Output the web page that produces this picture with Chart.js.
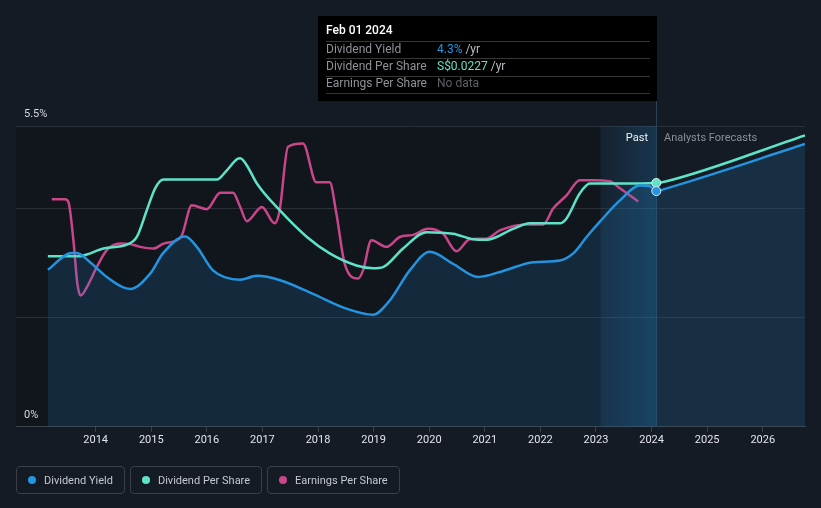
<!DOCTYPE html>
<html><head><meta charset="utf-8">
<script src="https://cdn.jsdelivr.net/npm/chart.js@4.4.0/dist/chart.umd.min.js"></script>
<style>
html,body{margin:0;padding:0;background:#151b25;width:821px;height:508px;overflow:hidden;font-family:Roboto,sans-serif}
#wrap{position:relative;width:821px;height:508px}
#c{position:absolute;left:0;top:0}
.legend{position:absolute;left:16px;top:466px;display:flex;gap:5px}
.item{box-sizing:border-box;height:28px;border:1px solid #3a3f48;border-radius:4px;display:flex;align-items:center;padding:0 11px 0 11px;color:#c5c8cc;font-size:11px}
.dot{width:8px;height:8px;border-radius:50%;margin-right:8px}
</style></head>
<body>
<div id="wrap">
<canvas id="c" width="821" height="508"></canvas>
<div class="legend">
 <div class="item"><span class="dot" style="background:#2394df"></span>Dividend Yield</div>
 <div class="item"><span class="dot" style="background:#5fe3c8"></span>Dividend Per Share</div>
 <div class="item"><span class="dot" style="background:#c9468a"></span>Earnings Per Share</div>
</div>
</div>
<script>
// ---- data (x = decimal year) ----
const yieldX = [2013.14,2013.57,2013.66,2013.90,2014.20,2014.62,2014.98,2015.21,2015.61,2015.82,2016.11,2016.60,2016.90,2017.32,2017.91,2018.51,2018.99,2019.29,2019.65,2020.01,2020.43,2020.88,2021.33,2021.87,2022.35,2022.59,2022.83,2023.07,2023.43,2023.79,2023.97,2024.085,2024.27,2026.76];
const yieldY = [2.87,3.18,3.18,3.01,2.74,2.52,2.80,3.17,3.48,3.29,2.86,2.69,2.76,2.68,2.43,2.16,2.05,2.31,2.86,3.20,2.98,2.74,2.85,3.01,3.04,3.17,3.47,3.75,4.14,4.41,4.40,4.31,4.36,5.17];

const dpsX = [2013.14,2013.72,2013.84,2014.14,2014.56,2014.74,2014.92,2015.07,2015.22,2016.18,2016.36,2016.54,2016.60,2016.72,2016.90,2017.31,2017.80,2018.21,2018.69,2018.99,2019.17,2019.53,2019.95,2020.43,2020.79,2021.03,2021.51,2021.81,2022.35,2022.47,2022.71,2022.89,2023.43,2024.085,2024.27,2026.76];
const dpsY = [0.01588,0.01588,0.01604,0.0166,0.01695,0.01767,0.02016,0.0222,0.02301,0.02301,0.02388,0.0249,0.025,0.02433,0.02265,0.02016,0.01767,0.01614,0.01502,0.01476,0.01487,0.0166,0.01812,0.01797,0.01746,0.01741,0.01843,0.01894,0.01894,0.0194,0.02174,0.02265,0.02265,0.0227,0.02286,0.02713];

const epsX = [2013.21,2013.45,2013.51,2013.60,2013.67,2013.73,2013.84,2014.02,2014.20,2014.44,2014.62,2014.80,2015.04,2015.22,2015.46,2015.55,2015.73,2016.00,2016.24,2016.47,2016.60,2016.72,2016.99,2017.22,2017.31,2017.46,2017.73,2017.97,2018.21,2018.33,2018.48,2018.72,2018.81,2018.96,2019.23,2019.47,2019.71,2019.98,2020.25,2020.49,2020.73,2021.03,2021.27,2021.75,2022.05,2022.23,2022.47,2022.71,2022.95,2023.25,2023.43,2023.76];
const epsY = [4.16,4.16,4.11,3.41,2.62,2.40,2.55,2.92,3.23,3.35,3.34,3.29,3.26,3.35,3.41,3.50,4.05,3.98,4.28,4.28,4.02,3.76,4.02,3.72,3.96,5.12,5.18,4.47,4.47,3.90,2.98,2.71,2.86,3.41,3.29,3.47,3.51,3.62,3.53,3.21,3.43,3.44,3.59,3.70,3.70,3.99,4.23,4.51,4.51,4.49,4.36,4.12];

const xTicks = [2014,2015,2016,2017,2018,2019,2020,2021,2022,2023,2024,2025,2026];
const yTicks = [0,2,4,5.5];
const yTickLabels = {0:'0%',5.5:'5.5%'};
const xMin = 2012.567, xMax = 2026.76;
const markerX = 2024.085;
const forecastStart = 2023.08;
const tipTitle = 'Feb 01 2024';
const tipRows = [
  {label:'Dividend Yield', value:'4.3%', unit:' /yr', color:'#2394df'},
  {label:'Dividend Per Share', value:'S$0.0227', unit:' /yr', color:'#5fe3c8'},
  {label:'Earnings Per Share', value:'No data', unit:'', color:'#5c6068'}
];

const pts = (xs, ys) => xs.map((x,i)=>({x, y: ys[i]}));
const FONT = 'Roboto, sans-serif';

const bgPlugin = {
  id:'bg',
  beforeDraw(chart){
    const {ctx, chartArea:a, scales:{x}} = chart;
    const fx = x.getPixelForValue(forecastStart);
    ctx.save();
    ctx.fillStyle = '#11151c';
    ctx.fillRect(a.left, a.top, fx - a.left, a.bottom - a.top);
    ctx.restore();
  },
  beforeDatasetsDraw(chart){
    const {ctx, chartArea:a, scales:{x}} = chart;
    const fx = x.getPixelForValue(forecastStart);
    const mx = Math.round(x.getPixelForValue(markerX));
    ctx.save();
    const g = ctx.createLinearGradient(fx,0,mx,0);
    g.addColorStop(0,'rgba(35,148,223,0.06)');
    g.addColorStop(1,'rgba(35,148,223,0.22)');
    ctx.fillStyle = g;
    ctx.fillRect(fx, a.top, mx - fx, a.bottom - a.top);
    ctx.strokeStyle = '#27425c';
    ctx.lineWidth = 1;
    ctx.beginPath(); ctx.moveTo(mx+0.5, 101); ctx.lineTo(mx+0.5, a.bottom); ctx.stroke();
    ctx.restore();
  },
  afterDatasetsDraw(chart){
    const {ctx, scales:{x}} = chart;
    const mx = Math.round(x.getPixelForValue(markerX));
    ctx.save();
    ctx.font = '11px ' + FONT;
    ctx.textBaseline = 'middle';
    ctx.textAlign = 'right';
    ctx.fillStyle = '#f2f2f2';
    ctx.fillText('Past', mx - 8, 138);
    ctx.textAlign = 'left';
    ctx.fillStyle = '#8b9098';
    ctx.fillText('Analysts Forecasts', mx + 8, 138);
    ctx.restore();
  },
  afterDraw(chart){
    const {ctx, scales:{x}} = chart;
    const mx = Math.round(x.getPixelForValue(markerX));
    const bx = 318, by = 16, bw = mx - bx + 1, bh = 85;
    ctx.save();
    ctx.fillStyle = '#000';
    ctx.fillRect(bx, by, bw, bh);
    ctx.textBaseline = 'middle';
    ctx.textAlign = 'left';
    ctx.font = '500 12px ' + FONT;
    ctx.fillStyle = '#ffffff';
    ctx.fillText(tipTitle, 326, 31);
    ctx.strokeStyle = '#363636';
    ctx.lineWidth = 1;
    const lines = [41.5, 58.5, 76.5, 93.5];
    lines.forEach(ly=>{ctx.beginPath(); ctx.moveTo(326, ly); ctx.lineTo(650, ly); ctx.stroke();});
    const rowY = [49.5, 66.5, 84];
    ctx.font = '12px ' + FONT;
    tipRows.forEach((r,i)=>{
      ctx.fillStyle = '#8e9299';
      ctx.fillText(r.label, 326, rowY[i]);
      ctx.fillStyle = r.color;
      ctx.fillText(r.value, 437, rowY[i]);
      if (r.unit){
        const w = ctx.measureText(r.value).width;
        ctx.fillStyle = '#b8bcc2';
        ctx.fillText(r.unit, 437 + w, rowY[i]);
      }
    });
    ctx.restore();
  }
};

const markerRadius = ctx => (ctx.raw && ctx.raw.x === markerX) ? 4.5 : 0;

new Chart(document.getElementById('c'), {
  type:'line',
  data:{
    datasets:[
      {label:'Earnings Per Share', data:pts(epsX,epsY), yAxisID:'y2', borderColor:'#c9468a', borderWidth:2.5, pointRadius:0, fill:false, cubicInterpolationMode:'monotone', order:3},
      {label:'Dividend Per Share', data:pts(dpsX,dpsY), yAxisID:'y1', borderColor:'#5fe3c8', borderWidth:2.5, pointRadius:markerRadius, pointBackgroundColor:'#5fe3c8', pointBorderColor:'#d8f5ef', pointBorderWidth:1, fill:false, cubicInterpolationMode:'monotone', order:2},
      {label:'Dividend Yield', data:pts(yieldX,yieldY), yAxisID:'y', borderColor:'#2394df', borderWidth:2.5, pointRadius:markerRadius, pointBackgroundColor:'#2394df', pointBorderColor:'#dde8f2', pointBorderWidth:1, fill:'origin', backgroundColor:'rgba(35,148,223,0.16)', cubicInterpolationMode:'monotone', order:1}
    ]
  },
  options:{
    responsive:false, animation:false, devicePixelRatio:1,
    layout:{padding:{left:0, right:16, top:126, bottom:59}},
    plugins:{legend:{display:false}, tooltip:{enabled:false}},
    scales:{
      x:{type:'linear', min:xMin, max:xMax,
        afterBuildTicks: s => { s.ticks = xTicks.map(v=>({value:v})); },
        ticks:{color:'#e2e4e8', font:{family:FONT, size:11}, padding:2, maxRotation:0, callback:v=>String(v)},
        grid:{drawOnChartArea:false, drawTicks:true, tickLength:5, color:'#3d424b'},
        border:{display:true, color:'#3d424b'}
      },
      y:{min:0, max:5.5, position:'left',
        afterBuildTicks: s => { s.ticks = yTicks.map(v=>({value:v})); },
        ticks:{mirror:true, padding:8, labelOffset:-12, color:'#d6d8dc', font:{family:FONT, size:11}, callback:v=> yTickLabels[v] || ''},
        grid:{color:'#2a2f38', drawTicks:false},
        border:{display:false}
      },
      y1:{min:0, max:0.028, display:false},
      y2:{min:0, max:5.5, display:false}
    }
  },
  plugins:[bgPlugin]
});
</script>
</body></html>
